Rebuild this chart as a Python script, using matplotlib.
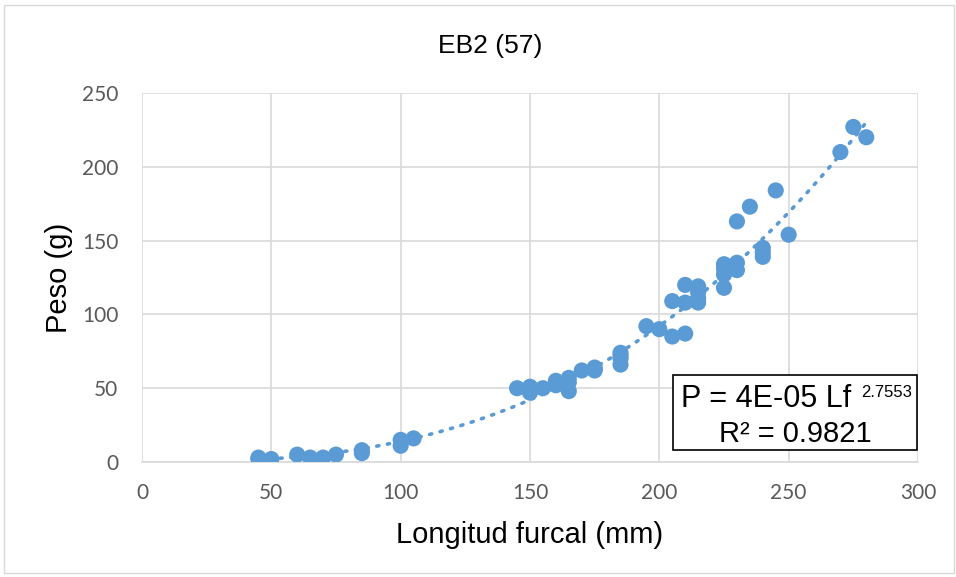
import numpy as np
import matplotlib
matplotlib.use("Agg")
import matplotlib.pyplot as plt
from matplotlib.patches import Rectangle

plt.rcParams['font.family'] = ['Liberation Sans', 'DejaVu Sans']

title = "EB2 (57)"
x_label = "Longitud furcal (mm)"
y_label = "Peso (g)"
x_ticks = [0, 50, 100, 150, 200, 250, 300]
y_ticks = [0, 50, 100, 150, 200, 250]

length_mm = [45, 45, 50, 60, 65, 70, 75, 85, 85, 100, 100, 105,
             145, 150, 150, 155, 160, 160, 160, 165, 165, 165, 170, 175, 175, 175,
             185, 185, 185, 185,
             195, 200, 205, 210, 205, 210, 210, 215, 215, 215, 215,
             225, 225, 225, 225, 230, 230, 230, 235, 240, 240, 240, 245, 250,
             270, 275, 280]
weight_g = [2, 3, 2, 5, 3, 3, 5, 6, 8, 11, 15, 16,
            50, 51, 47, 50, 55, 52, 53, 57, 48, 54, 62, 63, 62, 64,
            74, 70, 66, 72,
            92, 90, 85, 87, 109, 108, 120, 119, 115, 111, 108,
            134, 131, 127, 118, 135, 130, 163, 173, 145, 142, 139, 184, 154,
            210, 227, 220]

blue = '#5B9BD5'
W_, H_ = 956, 577

fig = plt.figure(figsize=(9.56, 5.77), dpi=100)
ax = fig.add_axes([142/W_, 1-462/H_, 776/W_, 369/H_])

fig.add_artist(Rectangle((4/W_, 4/H_), 950/W_, 568/H_, transform=fig.transFigure,
                         fill=False, edgecolor='#D9D9D9', linewidth=1))

L = np.array(length_mm, float)
Wt = np.array(weight_g, float)
b, loga = np.polyfit(np.log(L), np.log(Wt), 1)
xs = np.linspace(L.min(), L.max(), 300)
ax.plot(xs, np.exp(loga) * xs ** b, linestyle=(0, (0.6, 2.4)), color=blue,
        linewidth=2.6, dash_capstyle='round', zorder=3)

ax.scatter(length_mm, weight_g, s=135, color=blue, edgecolors='none', zorder=4)

ax.set_xlim(0, 300)
ax.set_ylim(0, 250)
ax.set_xticks(x_ticks)
ax.set_yticks(y_ticks)
ax.grid(True, color='#D9D9D9', linewidth=1.2)
ax.set_axisbelow(True)
for s in ['top', 'right', 'left']:
    ax.spines[s].set_visible(False)
ax.spines['bottom'].set_color('#D9D9D9')
ax.spines['bottom'].set_linewidth(1.2)
ax.tick_params(length=0, labelsize=15, colors='#595959')
ax.tick_params(axis='y', pad=17)
ax.tick_params(axis='x', pad=15)
for lab in ax.get_xticklabels() + ax.get_yticklabels():
    lab.set_fontfamily(['Lato', 'DejaVu Sans'])

fig.text(530/W_, 1-543/H_, x_label, ha='center', va='baseline', fontsize=21)
fig.text(59/W_, 1-278/H_, y_label, ha='center', va='center', rotation=90, fontsize=21)
fig.text(490/W_, 1-46/H_, title, ha='center', va='center', fontsize=19)

fig.add_artist(Rectangle((673/W_, 1-450/H_), 244/W_, 75/H_, transform=fig.transFigure,
                         fill=True, facecolor='white', edgecolor='black', linewidth=1.2, zorder=5))
fig.text(681/W_, 1-407/H_, "P = 4E-05 Lf", ha='left', va='baseline', fontsize=22, zorder=6)
fig.text(861/W_, 1-397/H_, "2.7553", ha='left', va='baseline', fontsize=12, zorder=6)
fig.text(795/W_, 1-442/H_, "R² = 0.9821", ha='center', va='baseline', fontsize=21, zorder=6)

fig.savefig("out.png", dpi=100)
